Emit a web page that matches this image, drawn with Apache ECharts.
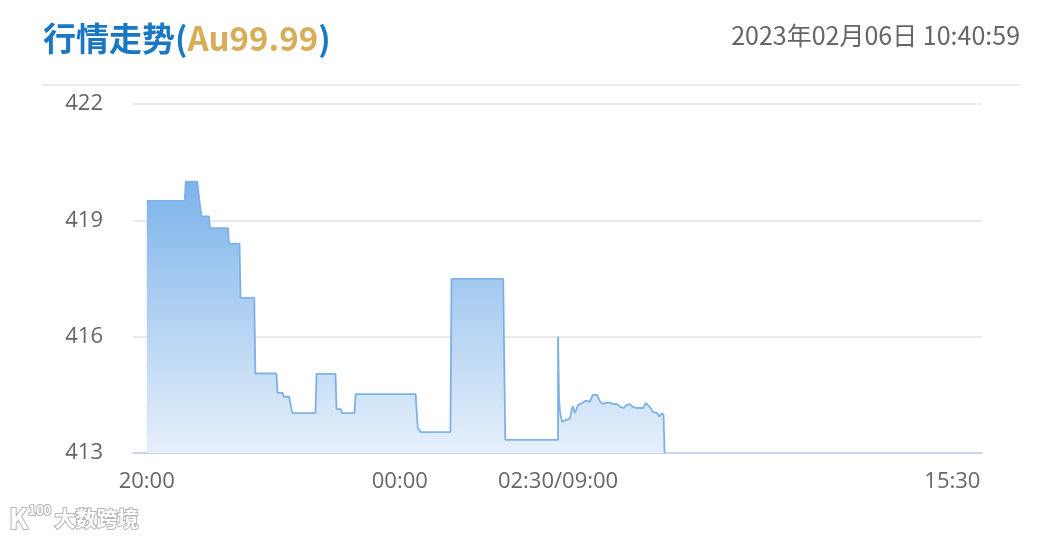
<!DOCTYPE html>
<html>
<head>
<meta charset="utf-8">
<title>行情走势</title>
<script src="https://cdn.jsdelivr.net/npm/echarts@6/dist/echarts.min.js"></script>
<style>
  html, body { margin: 0; padding: 0; background: #fff; }
  #chart { width: 1063px; height: 540px; }
</style>
</head>
<body>
<div id="chart"></div>
<script>
// trade times (night session 20:00-02:30, day session 09:00-15:30)
const times = ['20:00','20:36','20:37','20:48','20:50','20:52','20:59','21:00','21:17','21:18',
  '21:28','21:29','21:42','21:43','22:03','22:04','22:09','22:10','22:15','22:18',
  '22:40','22:41','22:59','23:00','23:04','23:05','23:17','23:18','00:15','00:17',
  '00:20','00:48','00:49','01:38','01:40','02:30','09:00','09:01','09:02','09:04',
  '09:07','09:08','09:11','09:14','09:16','09:19','09:23','09:26','09:30','09:33',
  '09:37','09:40','09:43','09:45','09:49','09:52','09:56','09:59','10:02','10:05',
  '10:08','10:11','10:15','10:18','10:21','10:23','10:25','10:27','10:30','10:34',
  '10:36','10:38','10:40','10:41'];
const prices = [419.5,419.5,420.0,420.0,419.5,419.1,419.1,418.8,418.8,418.4,
  418.4,417.0,417.0,415.05,415.05,414.55,414.55,414.45,414.45,414.03,
  414.03,415.04,415.04,414.13,414.13,414.03,414.03,414.52,414.52,413.64,
  413.54,413.54,417.49,417.49,413.34,413.34,416.0,414.37,414.03,413.80,
  413.85,413.80,413.88,414.21,414.03,414.24,414.29,414.35,414.32,414.50,
  414.50,414.32,414.26,414.30,414.30,414.26,414.26,414.19,414.16,414.24,
  414.26,414.19,414.16,414.16,414.16,414.29,414.24,414.19,414.06,414.03,
  413.94,414.01,414.00,413.0];

const tickTimes = ['20:00', '00:00', '02:30', '15:30'];
const tickTexts = ['20:00', '00:00', '02:30/09:00', '15:30'];
const yTicks = [413, 416, 419, 422];

// minutes from 20:00, the two sessions joined at 02:30/09:00
function toMinute(t) {
  const [h, m] = t.split(':').map(Number);
  if (h >= 20) return (h - 20) * 60 + m;
  if (h < 9) return (h + 4) * 60 + m;
  return 390 + (h - 9) * 60 + m;
}

const tickValues = tickTimes.map(toMinute);
const seriesData = times.map((t, i) => [toMinute(t), prices[i]]);

const wm = { fontWeight: 'bold', fontFamily: 'Noto Sans CJK SC', fill: '#fff', stroke: '#b5b5b5', lineWidth: 2 };

const chart = echarts.init(document.getElementById('chart'));
chart.setOption({
  animation: false,
  title: {
    left: 38,
    top: 17,
    text: '{b|行情走势(}{g|Au99.99}{b|)}',
    textStyle: {
      rich: {
        b: { fontSize: 33, fontWeight: 'bold', color: '#1878c4', fontFamily: 'Noto Sans CJK SC' },
        g: { fontSize: 33, fontWeight: 'bold', color: '#d8ad58', fontFamily: 'Noto Sans CJK SC' }
      }
    }
  },
  graphic: [
    {
      type: 'text',
      right: 43,
      top: 23,
      style: {
        text: '2023年02月06日 10:40:59',
        fontSize: 25,
        fill: '#666',
        fontFamily: 'Noto Sans CJK SC'
      }
    },
    {
      type: 'line',
      shape: { x1: 42, y1: 85, x2: 1020, y2: 85 },
      style: { stroke: '#e6e6e6', lineWidth: 1.5 }
    },
    {
      type: 'text',
      left: 8,
      top: 503,
      style: {
        text: '{k|K}{s|100} {t|大数跨境}',
        fill: '#fff',
        stroke: '#b5b5b5',
        lineWidth: 2,
        rich: {
          k: Object.assign({ fontSize: 28 }, wm),
          s: Object.assign({ fontSize: 13, verticalAlign: 'top' }, wm),
          t: Object.assign({ fontSize: 21 }, wm)
        }
      }
    }
  ],
  grid: {
    left: 133,
    right: 81,
    top: 104,
    bottom: 87
  },
  xAxis: {
    type: 'value',
    min: -13,
    max: 792,
    axisLine: { lineStyle: { color: '#c9d5ea', width: 2 } },
    axisTick: { show: false },
    splitLine: { show: false },
    axisLabel: {
      customValues: tickValues,
      margin: 18,
      fontSize: 22,
      color: '#666',
      fontFamily: 'Open Sans',
      formatter: function (v) {
        const i = tickValues.indexOf(v);
        if (i === tickValues.length - 1) return '{e|' + tickTexts[i] + '}';
        return i >= 0 ? tickTexts[i] : '';
      },
      rich: {
        e: { fontSize: 22, color: '#666', fontFamily: 'Open Sans', padding: [0, 34, 0, 0] }
      }
    }
  },
  yAxis: {
    type: 'value',
    min: yTicks[0],
    max: yTicks[yTicks.length - 1],
    interval: 3,
    axisLine: { show: false },
    axisTick: { show: false },
    axisLabel: {
      margin: 30,
      fontSize: 22,
      color: '#666',
      fontFamily: 'Open Sans'
    },
    splitLine: { lineStyle: { color: '#e3e3e3', width: 1.5 } }
  },
  series: [
    {
      type: 'line',
      data: seriesData,
      symbol: 'none',
      lineStyle: { color: '#7eb1e6', width: 1.8 },
      areaStyle: {
        opacity: 1,
        color: new echarts.graphic.LinearGradient(0, 0, 0, 1, [
          { offset: 0, color: '#7db3ea' },
          { offset: 1, color: '#e6f0fb' }
        ])
      }
    }
  ]
});
</script>
</body>
</html>
